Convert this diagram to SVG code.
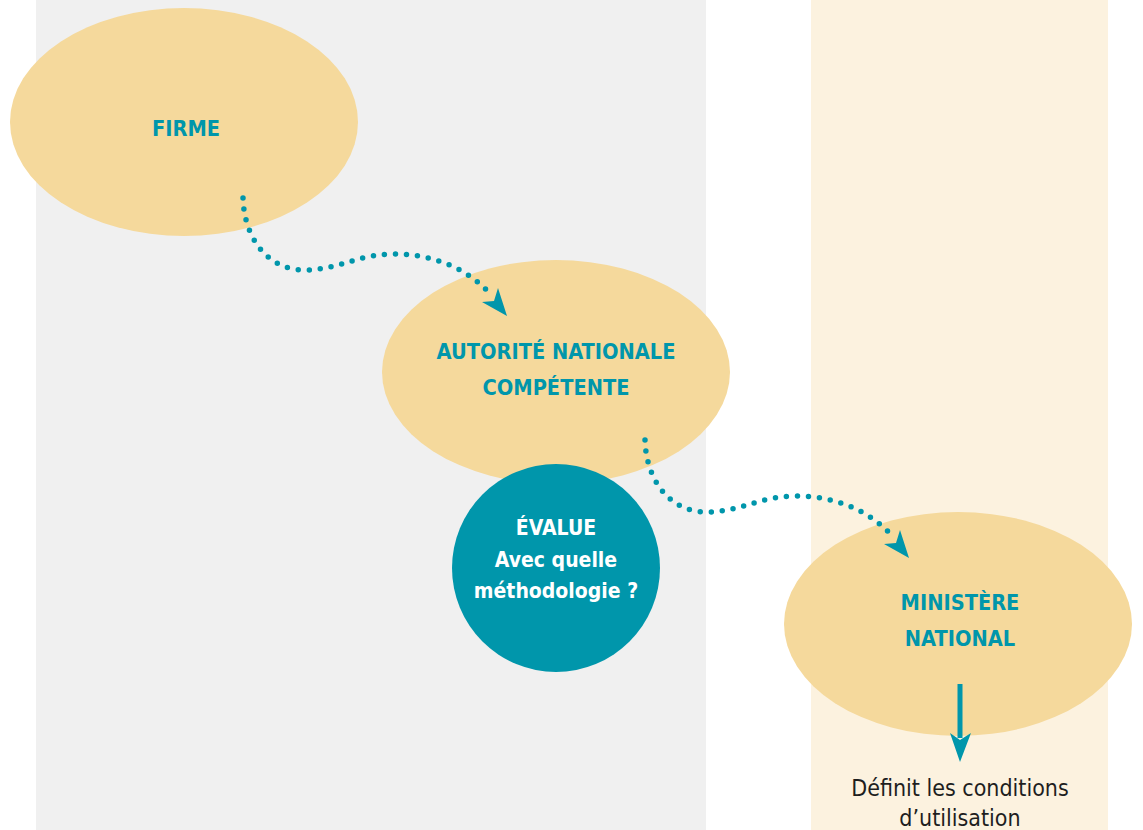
<svg xmlns="http://www.w3.org/2000/svg" width="1143" height="830" viewBox="0 0 1143 830">
  <style>
    .panel-grey { fill: #f0f0f0; }
    .panel-cream { fill: #fcf2df; }
    .oval { fill: #f5d99c; }
    .disc { fill: #0096ab; }
    .label { font-family: "DejaVu Sans Condensed", "DejaVu Sans", sans-serif; font-weight: bold; font-size: 21.6px; text-anchor: middle; fill: #0096ab; }
    .label-light { font-family: "DejaVu Sans Condensed", "DejaVu Sans", sans-serif; font-weight: bold; font-size: 21px; text-anchor: middle; fill: #ffffff; }
    .note { font-family: "DejaVu Sans Condensed", "DejaVu Sans", sans-serif; font-size: 23px; text-anchor: middle; fill: #1e1e1e; }
    .dots { fill: none; stroke: #0096ab; stroke-width: 5.5; stroke-linecap: round; stroke-dasharray: 0 11; }
    .head { fill: #0096ab; }
  </style>
  <defs>
    <!-- wavy dotted link with its arrowhead, drawn once and reused -->
    <g id="wave">
      <path class="dots" d="M243,198 C244,236 266,270 305,270 C338,270 358,254 394,254 C432,254 468,268 492,296"/>
      <polygon class="head" points="507,316 482,302 494,301 498,288"/>
    </g>
  </defs>

  <!-- background bands -->
  <rect class="panel-grey" x="36" y="0" width="670" height="830"/>
  <rect class="panel-cream" x="811" y="0" width="297" height="830"/>

  <g id="firme">
    <ellipse class="oval" cx="184" cy="122" rx="174" ry="114"/>
    <text class="label" x="186" y="136">FIRME</text>
  </g>

  <g id="autorite">
    <ellipse class="oval" cx="556" cy="372" rx="174" ry="112"/>
    <text class="label" x="556" y="359">AUTORITÉ NATIONALE</text>
    <text class="label" x="556" y="395">COMPÉTENTE</text>
  </g>

  <g id="evalue">
    <circle class="disc" cx="556" cy="568" r="104"/>
    <text class="label-light" x="556" y="535">ÉVALUE</text>
    <text class="label-light" x="556" y="567">Avec quelle</text>
    <text class="label-light" x="556" y="598">méthodologie ?</text>
  </g>

  <g id="ministere">
    <ellipse class="oval" cx="958" cy="624" rx="174" ry="112"/>
    <text class="label" x="960" y="610">MINISTÈRE</text>
    <text class="label" x="960" y="646">NATIONAL</text>
  </g>

  <g id="connectors">
    <use href="#wave"/>
    <use href="#wave" transform="translate(402,242)"/>
    <rect class="head" x="957.5" y="684" width="5" height="54"/>
    <polygon class="head" points="950,733 960,740 971,733 960,762"/>
  </g>

  <g id="conditions">
    <text class="note" x="960" y="796">Définit les conditions</text>
    <text class="note" x="960" y="826">d’utilisation</text>
  </g>
</svg>
